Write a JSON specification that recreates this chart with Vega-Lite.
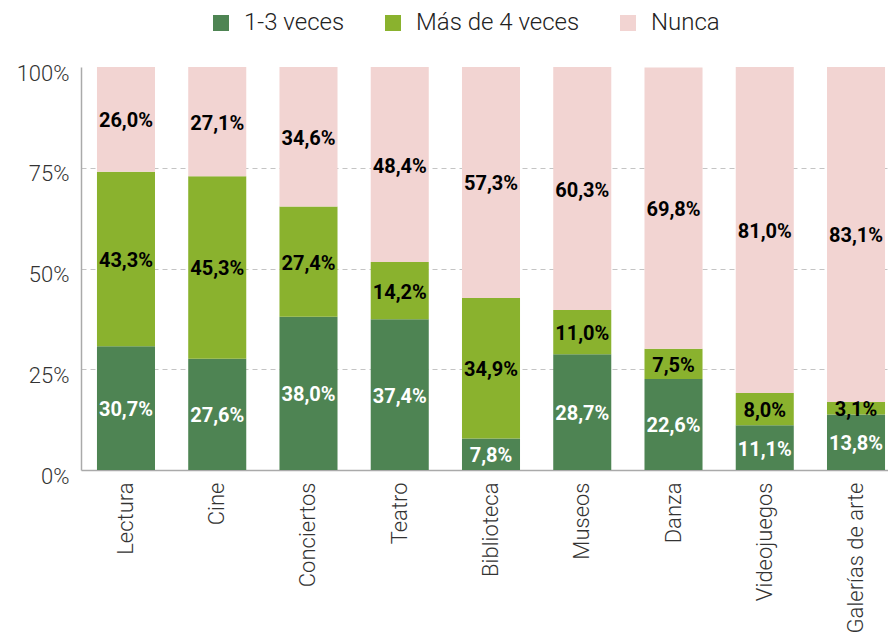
{
  "$schema": "https://vega.github.io/schema/vega-lite/v6.json",
  "autosize": "none",
  "width": 820,
  "height": 403,
  "padding": {"left": 81, "top": 67, "right": 0, "bottom": 171},
  "config": {"view": {"stroke": null}, "font": "Roboto"},
  "data": {
    "values": [
      {"actividad": "Lectura", "tipo": "1-3 veces", "valor": 30.7},
      {"actividad": "Lectura", "tipo": "Más de 4 veces", "valor": 43.3},
      {"actividad": "Lectura", "tipo": "Nunca", "valor": 26.0},
      {"actividad": "Cine", "tipo": "1-3 veces", "valor": 27.6},
      {"actividad": "Cine", "tipo": "Más de 4 veces", "valor": 45.3},
      {"actividad": "Cine", "tipo": "Nunca", "valor": 27.1},
      {"actividad": "Conciertos", "tipo": "1-3 veces", "valor": 38.0},
      {"actividad": "Conciertos", "tipo": "Más de 4 veces", "valor": 27.4},
      {"actividad": "Conciertos", "tipo": "Nunca", "valor": 34.6},
      {"actividad": "Teatro", "tipo": "1-3 veces", "valor": 37.4},
      {"actividad": "Teatro", "tipo": "Más de 4 veces", "valor": 14.2},
      {"actividad": "Teatro", "tipo": "Nunca", "valor": 48.4},
      {"actividad": "Biblioteca", "tipo": "1-3 veces", "valor": 7.8},
      {"actividad": "Biblioteca", "tipo": "Más de 4 veces", "valor": 34.9},
      {"actividad": "Biblioteca", "tipo": "Nunca", "valor": 57.3},
      {"actividad": "Museos", "tipo": "1-3 veces", "valor": 28.7},
      {"actividad": "Museos", "tipo": "Más de 4 veces", "valor": 11.0},
      {"actividad": "Museos", "tipo": "Nunca", "valor": 60.3},
      {"actividad": "Danza", "tipo": "1-3 veces", "valor": 22.6},
      {"actividad": "Danza", "tipo": "Más de 4 veces", "valor": 7.5},
      {"actividad": "Danza", "tipo": "Nunca", "valor": 69.8},
      {"actividad": "Videojuegos", "tipo": "1-3 veces", "valor": 11.1},
      {"actividad": "Videojuegos", "tipo": "Más de 4 veces", "valor": 8.0},
      {"actividad": "Videojuegos", "tipo": "Nunca", "valor": 81.0},
      {"actividad": "Galerías de arte", "tipo": "1-3 veces", "valor": 13.8},
      {"actividad": "Galerías de arte", "tipo": "Más de 4 veces", "valor": 3.1},
      {"actividad": "Galerías de arte", "tipo": "Nunca", "valor": 83.1}
    ]
  },
  "transform": [
    {"stack": "valor", "groupby": ["actividad"], "sort": [{"field": "tipo", "order": "ascending"}], "as": ["y0", "y1"]},
    {"calculate": "(datum.y0 + datum.y1) / 2", "as": "ymid"},
    {"calculate": "replace(format(datum.valor, '.1f'), '.', ',') + '%'", "as": "etiqueta"}
  ],
  "encoding": {
    "x": {
      "field": "actividad",
      "type": "nominal",
      "sort": null,
      "scale": {"paddingInner": 0.364, "paddingOuter": 0.175},
      "axis": {
        "title": null,
        "labelAngle": 270,
        "labelFontSize": 22,
        "labelFontWeight": 300,
        "labelColor": "#333",
        "labelPadding": 12,
        "ticks": false,
        "domainColor": "#aaa",
        "domainWidth": 1.5,
        "labelLimit": 300
      }
    }
  },
  "layer": [
    {
      "mark": {"type": "bar"},
      "encoding": {
        "y": {
          "field": "y0",
          "type": "quantitative",
          "scale": {"domain": [0, 100], "clamp": true},
          "axis": {
            "title": null,
            "values": [0, 25, 50, 75, 100],
            "labelExpr": "datum.value + '%'",
            "labelFontSize": 22,
            "labelFontWeight": 300,
            "labelColor": "#333",
            "labelPadding": 12,
            "labelOffset": 6,
            "ticks": false,
            "domainColor": "#aaa",
            "domainWidth": 1.5,
            "grid": true,
            "gridDash": [5, 4],
            "gridColor": "#c4c4c4",
            "gridOpacity": {"condition": {"test": "datum.value == 0 || datum.value == 100", "value": 0}, "value": 1}
          }
        },
        "y2": {"field": "y1"},
        "color": {
          "field": "tipo",
          "type": "nominal",
          "scale": {
            "domain": ["1-3 veces", "Más de 4 veces", "Nunca"],
            "range": ["#4e8453", "#8ab22e", "#f2d4d2"]
          },
          "legend": {
            "title": null,
            "orient": "none",
            "direction": "horizontal",
            "legendX": 128,
            "legendY": -56,
            "symbolType": "square",
            "symbolSize": 256,
            "symbolStrokeWidth": 0,
            "labelFontSize": 24,
            "labelFontWeight": 300,
            "labelColor": "#222",
            "labelOffset": 11,
            "labelLimit": 400,
            "columnPadding": 36
          }
        }
      }
    },
    {
      "mark": {"type": "text", "fontWeight": "bold", "fontSize": 20, "baseline": "middle", "dy": 2},
      "encoding": {
        "y": {"field": "ymid", "type": "quantitative"},
        "text": {"field": "etiqueta", "type": "nominal"},
        "color": {
          "condition": {"test": "datum.tipo == '1-3 veces'", "value": "#ffffff"},
          "value": "#000000"
        }
      }
    }
  ]
}
